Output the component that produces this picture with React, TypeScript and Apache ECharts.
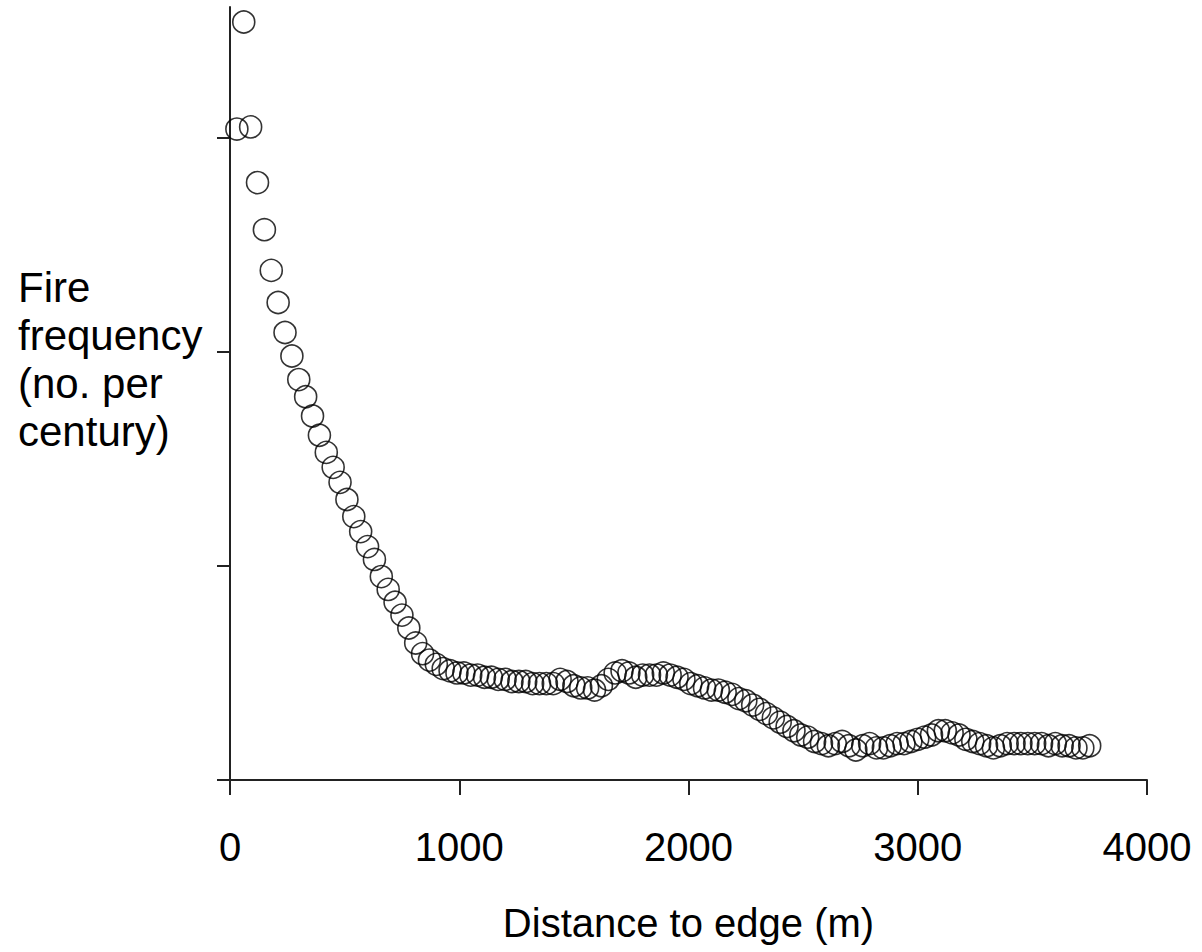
import React, { useEffect, useRef } from "react";
import * as echarts from "echarts";

const distances = [
  30, 60, 90, 120, 150, 180, 210, 240, 270, 300,
  330, 360, 390, 420, 450, 480, 510, 540, 570, 600,
  630, 660, 690, 720, 750, 780, 810, 840, 870, 900,
  930, 960, 990, 1020, 1050, 1080, 1110, 1140, 1170, 1200,
  1230, 1260, 1290, 1320, 1350, 1380, 1410, 1440, 1470, 1500,
  1530, 1560, 1590, 1620, 1650, 1680, 1710, 1740, 1770, 1800,
  1830, 1860, 1890, 1920, 1950, 1980, 2010, 2040, 2070, 2100,
  2130, 2160, 2190, 2220, 2250, 2280, 2310, 2340, 2370, 2400,
  2430, 2460, 2490, 2520, 2550, 2580, 2610, 2640, 2670, 2700,
  2730, 2760, 2790, 2820, 2850, 2880, 2910, 2940, 2970, 3000,
  3030, 3060, 3090, 3120, 3150, 3180, 3210, 3240, 3270, 3300,
  3330, 3360, 3390, 3420, 3450, 3480, 3510, 3540, 3570, 3600,
  3630, 3660, 3690, 3720, 3750,
];

const fireFrequency = [
  3.04, 3.54, 3.05, 2.79, 2.57, 2.38, 2.23, 2.09, 1.98, 1.87,
  1.79, 1.70, 1.61, 1.53, 1.46, 1.39, 1.31, 1.23, 1.16, 1.09,
  1.03, 0.95, 0.89, 0.83, 0.77, 0.71, 0.64, 0.59, 0.56, 0.54,
  0.52, 0.51, 0.50, 0.50, 0.49, 0.49, 0.48, 0.48, 0.47, 0.47,
  0.46, 0.46, 0.46, 0.45, 0.45, 0.45, 0.45, 0.47, 0.46, 0.44,
  0.43, 0.43, 0.42, 0.44, 0.47, 0.50, 0.51, 0.50, 0.48, 0.49,
  0.49, 0.49, 0.50, 0.49, 0.48, 0.47, 0.45, 0.44, 0.43, 0.42,
  0.42, 0.41, 0.40, 0.38, 0.37, 0.35, 0.33, 0.31, 0.29, 0.27,
  0.25, 0.23, 0.21, 0.20, 0.18, 0.17, 0.16, 0.17, 0.18, 0.16,
  0.14, 0.16, 0.17, 0.15, 0.15, 0.16, 0.17, 0.17, 0.18, 0.19,
  0.20, 0.21, 0.23, 0.23, 0.22, 0.21, 0.19, 0.18, 0.17, 0.16,
  0.15, 0.16, 0.17, 0.17, 0.17, 0.17, 0.17, 0.17, 0.16, 0.17,
  0.16, 0.16, 0.15, 0.15, 0.16,
];

const yTicks = [0, 1, 2, 3];
const xAxisTitle = "Distance to edge (m)";
const yAxisTitle = "Fire\nfrequency\n(no. per\ncentury)";

const FONT = "'Liberation Sans', Arial, Helvetica, sans-serif";

export default function App() {
  const ref = useRef<HTMLDivElement>(null);

  useEffect(() => {
    if (!ref.current) return;
    const chart = echarts.init(ref.current, undefined, { renderer: "svg" });
    const points = distances.map((d, i) => [d, fireFrequency[i]]);
    chart.setOption({
      animation: false,
      backgroundColor: "#ffffff",
      grid: { left: 230, right: 55, top: 7, bottom: 172, containLabel: false },
      xAxis: {
        type: "value",
        min: 0,
        max: 4000,
        interval: 1000,
        name: xAxisTitle,
        nameLocation: "middle",
        nameGap: 123,
        nameTextStyle: { fontFamily: FONT, fontSize: 40, color: "#000" },
        axisLine: { show: true, onZero: false, lineStyle: { color: "#222", width: 2 } },
        axisTick: { show: true, inside: false, length: 15, lineStyle: { color: "#222", width: 2 } },
        axisLabel: {
          fontFamily: FONT,
          fontSize: 40,
          color: "#000",
          margin: 47,
          formatter: (v: number) => String(v),
        },
        splitLine: { show: false },
      },
      yAxis: {
        type: "value",
        min: 0,
        max: 3.61,
        axisLine: { show: true, onZero: false, lineStyle: { color: "#222", width: 2 } },
        axisTick: {
          show: true,
          inside: false,
          length: 13,
          customValues: yTicks,
          lineStyle: { color: "#222", width: 2 },
        },
        axisLabel: { show: false },
        splitLine: { show: false },
      },
      graphic: [
        {
          type: "text",
          left: 18,
          top: 263,
          style: {
            text: yAxisTitle,
            fontFamily: FONT,
            fontSize: 42,
            lineHeight: 48,
            fill: "#000",
            textAlign: "left",
          },
        },
      ],
      series: [
        {
          type: "scatter",
          data: points,
          symbol: "circle",
          symbolSize: 22,
          itemStyle: { color: "rgba(255,255,255,0)", borderColor: "#000", borderWidth: 1.6 },
          emphasis: { disabled: true },
        },
      ],
    });
    return () => chart.dispose();
  }, []);

  return (
    <div
      ref={ref}
      style={{ position: "fixed", left: 0, top: 0, width: 1202, height: 952, background: "#fff" }}
    />
  );
}
